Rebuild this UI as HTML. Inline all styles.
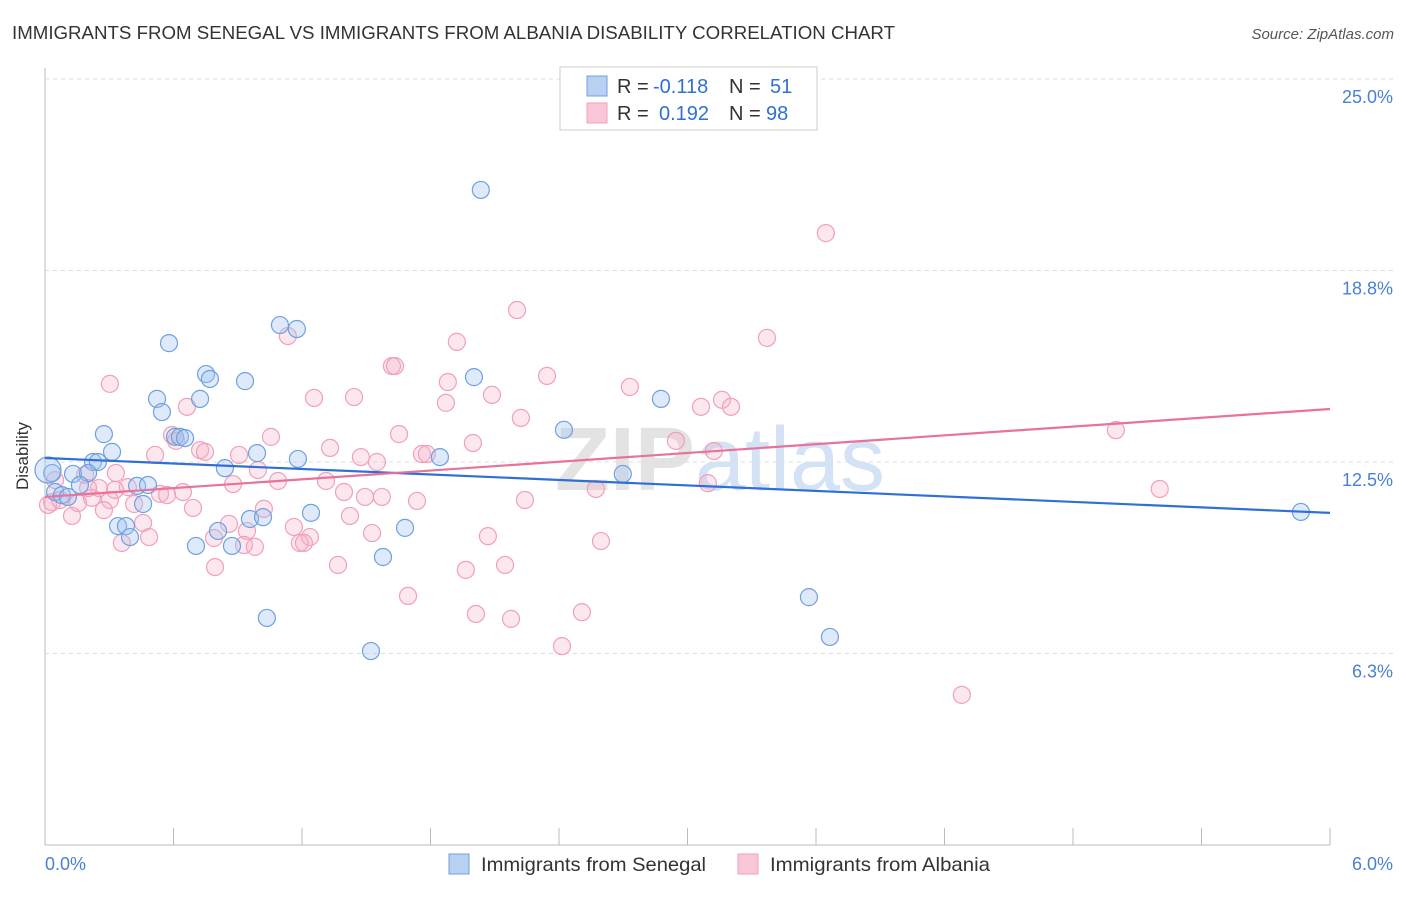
<!DOCTYPE html>
<html><head><meta charset="utf-8"><style>
body{margin:0;background:#fff;font-family:"Liberation Sans",sans-serif}
svg text{font-family:"Liberation Sans",sans-serif}
</style></head><body>
<svg id="c" width="1406" height="892">
<text x="12" y="39" font-size="18" fill="#333" textLength="883" lengthAdjust="spacingAndGlyphs">IMMIGRANTS FROM SENEGAL VS IMMIGRANTS FROM ALBANIA DISABILITY CORRELATION CHART</text>
<text x="1394" y="39" font-size="15" fill="#555" font-style="italic" text-anchor="end">Source: ZipAtlas.com</text>
<text x="720" y="490" font-size="90" fill="#e3e3e3" text-anchor="middle" font-weight="bold">ZIP<tspan fill="#d3e2f4" font-weight="normal">atlas</tspan></text>
<g id="grid"></g><g id="pts"></g><g id="trend"></g>
<text x="28" y="456" font-size="17" fill="#333" text-anchor="middle" transform="rotate(-90 28 456)">Disability</text>
<g>
<rect x="560" y="67" width="257" height="63" fill="#fff" stroke="#ccc"/>
<rect x="587" y="76" width="20" height="20" fill="#b8d1f3" stroke="#6fa0e0"/>
<rect x="587" y="103" width="20" height="20" fill="#f8c6d6" stroke="#f0a0bb"/>
<text x="617" y="93" font-size="20" fill="#333">R = <tspan x="653" fill="#2f6fd6">-0.118</tspan><tspan x="729">N = </tspan><tspan x="770" fill="#2f6fd6">51</tspan></text>
<text x="617" y="120" font-size="20" fill="#333">R = <tspan x="659" fill="#2f6fd6">0.192</tspan><tspan x="729">N = </tspan><tspan x="766" fill="#2f6fd6">98</tspan></text>
</g>
<g>
<rect x="449" y="854" width="20" height="20" fill="#b8d1f3" stroke="#6fa0e0"/>
<text x="481" y="871" font-size="19.5" fill="#333" textLength="225" lengthAdjust="spacingAndGlyphs">Immigrants from Senegal</text>
<rect x="738" y="854" width="20" height="20" fill="#f8c6d6" stroke="#f0a0bb"/>
<text x="770" y="871" font-size="19.5" fill="#333" textLength="220" lengthAdjust="spacingAndGlyphs">Immigrants from Albania</text>
</g>
</svg>
<script>
const yTicks=[6.25,12.5,18.75,25];
const yTickLabels=["6.3%","12.5%","18.8%","25.0%"];
const xTickLabels=["0.0%","6.0%"];
const senegalX=[2.035,0.579,1.097,1.176,0.752,0.770,0.934,2.003,0.523,0.724,0.546,2.876,0.275,0.607,0.630,0.654,2.423,0.313,0.990,0.224,0.247,1.181,1.844,0.840,0.131,0.201,2.698,0.033,0.163,0.430,0.481,0.047,0.079,0.107,0.458,1.242,0.957,1.018,0.341,0.378,0.397,0.808,1.681,0.705,0.873,1.578,1.036,3.567,3.665,1.522,5.864,0.014];
const senegalY=[21.38,16.38,16.97,16.84,15.37,15.21,15.14,15.27,14.56,14.56,14.13,14.56,13.41,13.32,13.32,13.28,13.55,12.83,12.79,12.50,12.50,12.60,12.66,12.30,12.11,12.14,12.11,12.14,11.75,11.72,11.75,11.52,11.42,11.36,11.13,10.84,10.64,10.70,10.41,10.41,10.05,10.25,10.35,9.76,9.76,9.40,7.41,8.09,6.79,6.33,10.87,12.24];
const albaniaX=[3.646,2.204,3.371,1.134,1.923,1.620,1.634,0.303,1.881,2.344,2.731,1.256,1.443,1.872,2.087,0.663,3.063,3.161,3.203,2.222,1.653,1.055,0.593,0.612,1.998,2.946,1.331,5.000,0.724,0.747,0.514,0.906,1.760,1.783,1.475,1.550,3.123,0.994,0.331,0.187,0.878,1.088,1.312,3.095,0.387,2.572,5.205,0.252,0.644,1.396,0.537,1.494,1.573,1.737,2.241,0.570,0.219,0.033,0.070,0.303,0.154,0.416,0.691,1.022,0.275,0.126,1.424,0.859,1.162,0.943,0.458,1.237,0.789,1.527,2.068,0.486,2.596,0.359,1.190,1.209,0.929,0.980,1.368,1.965,2.148,0.794,1.695,2.507,2.012,2.176,2.414,4.281,0.327,0.201,0.047,0.014];
const albaniaY=[19.97,17.46,16.55,16.61,16.42,15.63,15.63,15.05,15.11,15.31,14.95,14.59,14.62,14.43,14.69,14.30,14.30,14.53,14.30,13.94,13.41,13.32,13.38,13.19,13.12,13.19,12.96,13.54,12.89,12.83,12.73,12.73,12.76,12.76,12.66,12.50,12.86,12.24,12.14,12.08,11.78,11.88,11.88,11.81,11.68,11.62,11.62,11.65,11.52,11.52,11.46,11.36,11.36,11.23,11.26,11.42,11.33,11.19,11.26,11.26,11.16,11.13,11.00,10.97,10.93,10.74,10.74,10.48,10.38,10.25,10.51,10.05,10.02,10.18,10.08,10.05,9.92,9.86,9.86,9.86,9.79,9.73,9.14,8.98,9.14,9.07,8.13,7.60,7.54,7.38,6.49,4.90,11.59,11.65,11.91,11.10];
const senegalTrend=[12.63,10.84];
const albaniaTrend=[11.36,14.23];
const NS='http://www.w3.org/2000/svg';
const X0=45,X1=1330,Y0=845,YT=79;
const xs=v=>X0+v/6*(X1-X0);
const ys=v=>Y0-v/25*(Y0-YT);
function mk(t,a,p){const e=document.createElementNS(NS,t);for(const k in a)e.setAttribute(k,a[k]);p.appendChild(e);return e;}
const g=document.getElementById('grid');
const ax=mk('line',{x1:X0,x2:X0,y1:68,y2:Y0,stroke:'#bbb'},g);


const bx=mk('line',{x1:X0,x2:X1,y1:Y0,y2:Y0,stroke:'#bbb'},g);


yTicks.forEach((t,i)=>{
 const l=mk('line',{x1:X0,x2:1395,y1:ys(t),y2:ys(t),stroke:'#ddd','stroke-dasharray':'4,4'},g);
 
 
 const tx=mk('text',{x:1393,y:ys(t)+24,'font-size':18,fill:'#4a7fd4','text-anchor':'end'},g);
 tx.textContent=yTickLabels[i];
 
 
});
for(let i=0;i<=10;i++){
 const x=xs(i*0.6);
 const l=mk('line',{x1:x,x2:x,y1:828,y2:Y0,stroke:'#bbb'},g);
 
 
}
[[0,'start',X0],[1,'end',1393]].forEach(([i,a,x])=>{
 const tx=mk('text',{x:x,y:870,'font-size':18,fill:'#4a7fd4','text-anchor':a},g);
 tx.textContent=xTickLabels[i];
 
 
});
const p=document.getElementById('pts');
function pts(X,Y,fill,stroke,name){
 X.forEach((v,i)=>{
  const c=mk('circle',{cx:xs(v),cy:ys(Y[i]),r:(i===X.length-1&&name==='senegal-point')?13:8.5,fill:fill,stroke:stroke,'stroke-width':1.2},p);
  
  
 });
}
pts(albaniaX,albaniaY,'rgba(245,175,198,0.3)','#f0a0bb','albania-point');
pts(senegalX,senegalY,'rgba(160,195,240,0.35)','#6fa0e0','senegal-point');
const tr=document.getElementById('trend');
const t1=mk('line',{x1:xs(0),x2:xs(6),y1:ys(senegalTrend[0]),y2:ys(senegalTrend[1]),stroke:'#2f6fd6','stroke-width':2.2},tr);


const t2=mk('line',{x1:xs(0),x2:xs(6),y1:ys(albaniaTrend[0]),y2:ys(albaniaTrend[1]),stroke:'#e8729a','stroke-width':2.2},tr);


</script>
</body></html>
